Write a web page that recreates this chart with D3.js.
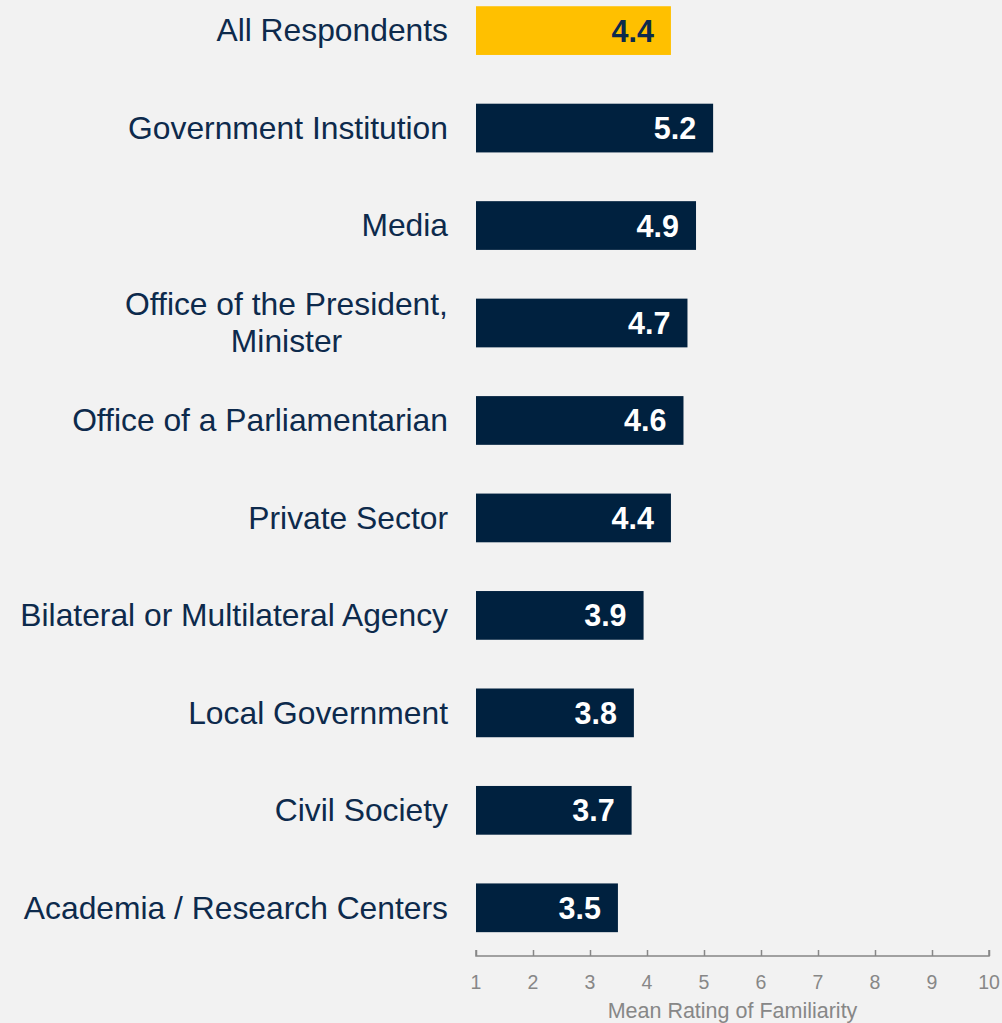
<!DOCTYPE html>
<html>
<head>
<meta charset="utf-8">
<script src="https://cdn.jsdelivr.net/npm/d3@7"></script>
<style>
  html, body { margin: 0; padding: 0; background: #F2F2F2; }
  svg { display: block; }
</style>
</head>
<body>
<script>
const categories = [
  "All Respondents",
  "Government Institution",
  "Media",
  "Office of the President,\nMinister",
  "Office of a Parliamentarian",
  "Private Sector",
  "Bilateral or Multilateral Agency",
  "Local Government",
  "Civil Society",
  "Academia / Research Centers"
];
const values = [4.42, 5.16, 4.86, 4.71, 4.64, 4.42, 3.94, 3.77, 3.73, 3.49];
const highlighted = ["All Respondents"];
const tickValues = [1, 2, 3, 4, 5, 6, 7, 8, 9, 10];
const axisTitle = "Mean Rating of Familiarity";

const W = 1002, H = 1023;
const navy = "#00213F", gold = "#FFC000", textNavy = "#0D2A4C", gray = "#878787";
const font = "'Liberation Sans', Arial, sans-serif";

const svg = d3.select("body").append("svg").attr("width", W).attr("height", H)
  .style("background", "#F2F2F2");

const x = d3.scaleLinear().domain([1, 10]).range([476, 989]);
const y = d3.scaleBand().domain(categories).range([-42.5, 980.9]).paddingInner(0.5).paddingOuter(0.5);

const data = categories.map((c, i) => ({ c, v: values[i], hi: highlighted.includes(c) }));

// bars
svg.append("g").selectAll("rect").data(data).join("rect")
  .attr("x", x(1))
  .attr("y", d => y(d.c))
  .attr("width", d => x(d.v) - x(1))
  .attr("height", y.bandwidth())
  .attr("fill", d => d.hi ? gold : navy);

// value labels
svg.append("g").selectAll("text").data(data).join("text")
  .attr("x", d => x(d.v) - 17)
  .attr("y", d => y(d.c) + y.bandwidth() / 2)
  .attr("dy", "0.36em")
  .attr("text-anchor", "end")
  .attr("font-family", font)
  .attr("font-weight", "bold")
  .attr("font-size", 30.5)
  .attr("fill", d => d.hi ? textNavy : "#FFFFFF")
  .text(d => d3.format(".1f")(d.v));

// category labels
const cat = svg.append("g").selectAll("text").data(data).join("text")
  .attr("font-family", font)
  .attr("font-size", 31.8)
  .attr("fill", textNavy)
  .attr("transform", d => `translate(448,${y(d.c) + y.bandwidth() / 2})`);
cat.each(function(d) {
  const lines = d.c.split("\n");
  const lh = 37;
  const t = d3.select(this);
  lines.forEach((ln, k) => {
    t.append("tspan")
      .attr("x", lines.length > 1 ? -161.5 : 0)
      .attr("text-anchor", lines.length > 1 ? "middle" : "end")
      .attr("y", (k - (lines.length - 1) / 2) * lh)
      .attr("dy", "0.34em")
      .text(ln);
  });
});

// axis
const axisY = 956;
const axis = d3.axisTop(x).tickValues(tickValues).tickSize(6).tickFormat("");
const ag = svg.append("g").attr("transform", `translate(0,${axisY})`).call(axis);
ag.select(".domain").attr("stroke", gray).attr("stroke-width", 1.5)
  .attr("d", `M${x(1)},-6V0H${x(10)}V-6`);
ag.selectAll(".tick line").attr("stroke", gray).attr("stroke-width", 1.5);

svg.append("g").selectAll("text").data(tickValues).join("text")
  .attr("x", d => x(d))
  .attr("y", 989)
  .attr("text-anchor", "middle")
  .attr("font-family", font)
  .attr("font-size", 19.5)
  .attr("fill", gray)
  .text(d => d);

svg.append("text")
  .attr("x", (x(1) + x(10)) / 2)
  .attr("y", 1017.5)
  .attr("text-anchor", "middle")
  .attr("font-family", font)
  .attr("font-size", 21.5)
  .attr("fill", gray)
  .text(axisTitle);
</script>
</body>
</html>
